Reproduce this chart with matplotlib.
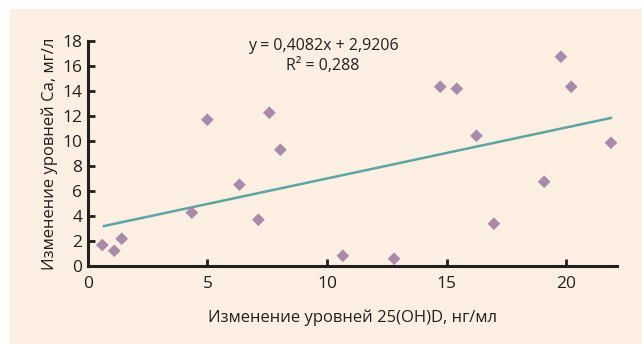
import numpy as np
import matplotlib.pyplot as plt
from matplotlib.patches import Rectangle

# точки: изменение 25(OH)D и изменение Ca
x = [0.61, 1.11, 1.42, 4.35, 5.0, 6.34, 7.13, 7.59, 8.05,
     10.66, 12.8, 14.73, 15.42, 16.24, 16.97, 19.07, 19.77, 20.2, 21.86]
y = [1.68, 1.22, 2.18, 4.27, 11.7, 6.5, 3.7, 12.26, 9.3,
     0.82, 0.58, 14.34, 14.18, 10.42, 3.38, 6.74, 16.74, 14.34, 9.86]
slope = 0.4082
intercept = 2.9206
r2 = 0.288
xticks = [0, 5, 10, 15, 20]
yticks = [0, 2, 4, 6, 8, 10, 12, 14, 16, 18]

plt.rcParams['font.family'] = ['Open Sans', 'DejaVu Sans']

fig = plt.figure(figsize=(6.42, 3.44), dpi=100)
fig.patches.append(Rectangle((10/642, 0), 1, (344-9)/344, transform=fig.transFigure,
                             facecolor='#fdf0e3', edgecolor='none', zorder=-10))
ax = fig.add_axes([87.7/642, (344-266)/344, (616.7-87.7)/642, 225/344])
ax.set_facecolor('none')

ax.scatter(x, y, marker='D', s=42, color='#a98aab', edgecolors='none', zorder=3,
           clip_on=False)

xl = np.array([min(x) + 0.07, max(x)])
ax.plot(xl, slope * xl + intercept, color='#5ea4a2', lw=1.8, zorder=2)

ax.set_xlim(0, 22.1)
ax.set_ylim(0, 18)
ax.set_xticks(xticks)
ax.set_yticks(yticks)
for s in ['top', 'right']:
    ax.spines[s].set_visible(False)
for s in ['left', 'bottom']:
    ax.spines[s].set_linewidth(2.2)
    ax.spines[s].set_color('#231f20')
ax.tick_params(direction='in', length=5, width=2, color='#231f20',
               labelsize=12.5, labelcolor='#231f20', pad=4)
ax.tick_params(axis='x', pad=7)

ax.set_xlabel('Изменение уровней 25(OH)D, нг/мл', fontsize=12, color='#231f20', labelpad=13)
ax.set_ylabel('Изменение уровней Ca, мг/л', fontsize=12, color='#231f20', labelpad=3)

eq = 'y = %sx + %s\nR² = %s' % (str(slope).replace('.', ','),
                                  str(intercept).replace('.', ','),
                                  str(r2).replace('.', ','))
ax.text(0.445, 0.934, eq, transform=ax.transAxes, ha='center', va='center',
        fontsize=11.5, color='#231f20', linespacing=1.35)

fig.savefig('out.png', dpi=100)
